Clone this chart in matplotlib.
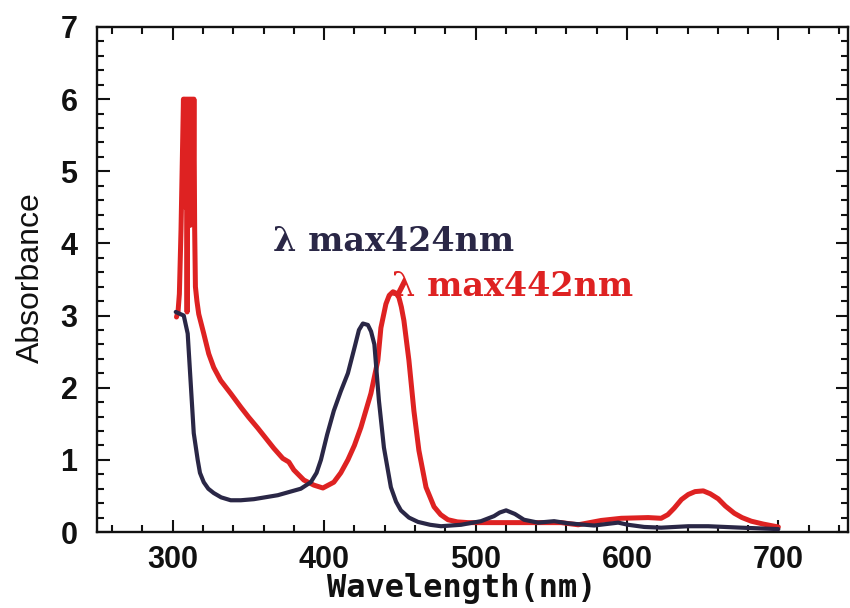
import matplotlib
matplotlib.use("Agg")
import matplotlib.pyplot as plt
from matplotlib.ticker import MultipleLocator

# ---- data ----
navy_wl = [302.0, 307.3, 309.9, 311.9, 313.9, 316.5, 318.0, 320.5, 323.5, 327.1,
           332.0, 338.3, 345.0, 353.6, 369.4, 384.6, 391.2, 395.0, 397.9, 402.0,
           406.4, 411.0, 415.7, 420.0, 423.0, 425.6, 428.9, 431.0, 433.2, 436.2,
           439.5, 444.1, 447.5, 450.7, 456.0, 462.0, 470.0, 477.2, 490.4, 503.6,
           512.2, 516.0, 520.2, 526.0, 532.0, 541.3, 551.9, 561.2, 578.3, 594.2,
           600.8, 611.4, 622.6, 640.5, 653.7, 675.5, 700.0]
navy_abs = [3.05, 3.00, 2.75, 2.06, 1.37, 1.00, 0.82, 0.69, 0.60, 0.54,
            0.48, 0.44, 0.44, 0.455, 0.51, 0.60, 0.69, 0.82, 1.00, 1.35,
            1.68, 1.95, 2.20, 2.55, 2.80, 2.89, 2.87, 2.78, 2.60, 1.82,
            1.17, 0.62, 0.42, 0.30, 0.20, 0.14, 0.10, 0.08, 0.10, 0.15,
            0.22, 0.27, 0.30, 0.25, 0.17, 0.13, 0.15, 0.12, 0.09, 0.13,
            0.10, 0.07, 0.06, 0.08, 0.08, 0.06, 0.04]

red_wl = [302.5, 303.5, 304.4, 305.5, 307.1, 307.5, 308.0, 308.5, 309.0, 309.5,
          310.0, 310.5, 311.0, 311.5, 312.0, 312.5, 313.0, 313.5, 314.0, 314.5,
          315.0, 316.0, 317.2, 320.5, 323.8, 327.1, 331.7, 338.3, 345.0, 350.2,
          356.2, 361.5, 366.8, 372.7, 376.7, 380.0, 386.6, 393.2, 399.2, 406.4,
          411.0, 415.7, 420.0, 424.3, 430.9, 435.5, 437.5, 440.8, 443.0, 445.5,
          447.5, 449.4, 451.0, 452.7, 456.0, 459.3, 462.6, 467.3, 472.6, 477.0,
          481.8, 488.0, 495.0, 512.2, 534.7, 556.5, 567.8, 583.0, 596.2, 614.0,
          622.6, 627.0, 631.2, 636.0, 640.5, 645.0, 650.4, 655.0, 660.3, 665.0,
          670.9, 676.0, 682.1, 690.0, 697.4, 700.0]
red_abs = [2.98, 3.05, 3.30, 4.20, 6.00, 4.60, 6.00, 4.50, 6.00, 3.05,
           6.00, 4.30, 6.00, 4.25, 6.00, 4.30, 6.00, 4.40, 6.00, 4.20,
           3.40, 3.20, 3.02, 2.75, 2.47, 2.28, 2.10, 1.92, 1.73, 1.59,
           1.44, 1.30, 1.16, 1.02, 0.97, 0.86, 0.72, 0.65, 0.61, 0.69,
           0.82, 1.00, 1.20, 1.45, 1.92, 2.38, 2.83, 3.16, 3.28, 3.33,
           3.31, 3.25, 3.12, 2.93, 2.38, 1.68, 1.13, 0.62, 0.35, 0.24,
           0.17, 0.14, 0.13, 0.13, 0.13, 0.13, 0.10, 0.16, 0.19, 0.20,
           0.19, 0.24, 0.33, 0.45, 0.52, 0.56, 0.57, 0.53, 0.46, 0.36,
           0.26, 0.20, 0.15, 0.11, 0.08, 0.07]

x_ticks = [300, 400, 500, 600, 700]
y_ticks = [0, 1, 2, 3, 4, 5, 6, 7]
label_navy = "λ max424nm"
label_red = "λ max442nm"

NAVY = "#2a2746"
RED = "#de2222"

fig = plt.figure(figsize=(8.5, 6.08), dpi=100)
ax = fig.add_axes([97 / 850, 1 - 532 / 608, (848 - 97) / 850, (532 - 27) / 608])

ax.plot(navy_wl, navy_abs, color=NAVY, lw=3.0, solid_joinstyle="round",
        solid_capstyle="round", zorder=3)
ax.plot(red_wl, red_abs, color=RED, lw=3.6, solid_joinstyle="round",
        solid_capstyle="round", zorder=2)

ax.set_xlim(250, 746)
ax.set_ylim(0, 7)
ax.set_xticks(x_ticks)
ax.set_yticks(y_ticks)
ax.xaxis.set_minor_locator(MultipleLocator(20))
ax.yaxis.set_minor_locator(MultipleLocator(0.2))

ax.tick_params(which="both", direction="in", top=True, right=True, width=1.5,
               color="#111111")
ax.tick_params(which="major", length=9)
ax.tick_params(which="minor", length=5)
ax.tick_params(axis="y", which="major", pad=14)
ax.tick_params(axis="x", which="major", pad=9)
for lab in ax.get_xticklabels() + ax.get_yticklabels():
    lab.set_fontfamily("Liberation Sans")
    lab.set_fontweight("bold")
    lab.set_fontsize(22)
    lab.set_color("#111111")
for sp in ax.spines.values():
    sp.set_linewidth(1.7)
    sp.set_color("#111111")

ax.text(366, 3.9, label_navy, color=NAVY, fontsize=24, family="DejaVu Serif",
        fontweight="bold", ha="left", va="baseline")
ax.text(445, 3.27, label_red, color=RED, fontsize=24, family="DejaVu Serif",
        fontweight="bold", ha="left", va="baseline")

fig.text(31 / 850, 1 - 278 / 608, "Absorbance", rotation=90, ha="center",
         va="center", fontsize=23, family="Liberation Sans", color="#111111")
fig.text(462 / 850, 1 - 588 / 608, "Wavelength(nm)", ha="center", va="center",
         fontsize=23, family="DejaVu Sans Mono", fontweight="bold", color="#111111")

fig.savefig("out.png", dpi=100, facecolor="white")
